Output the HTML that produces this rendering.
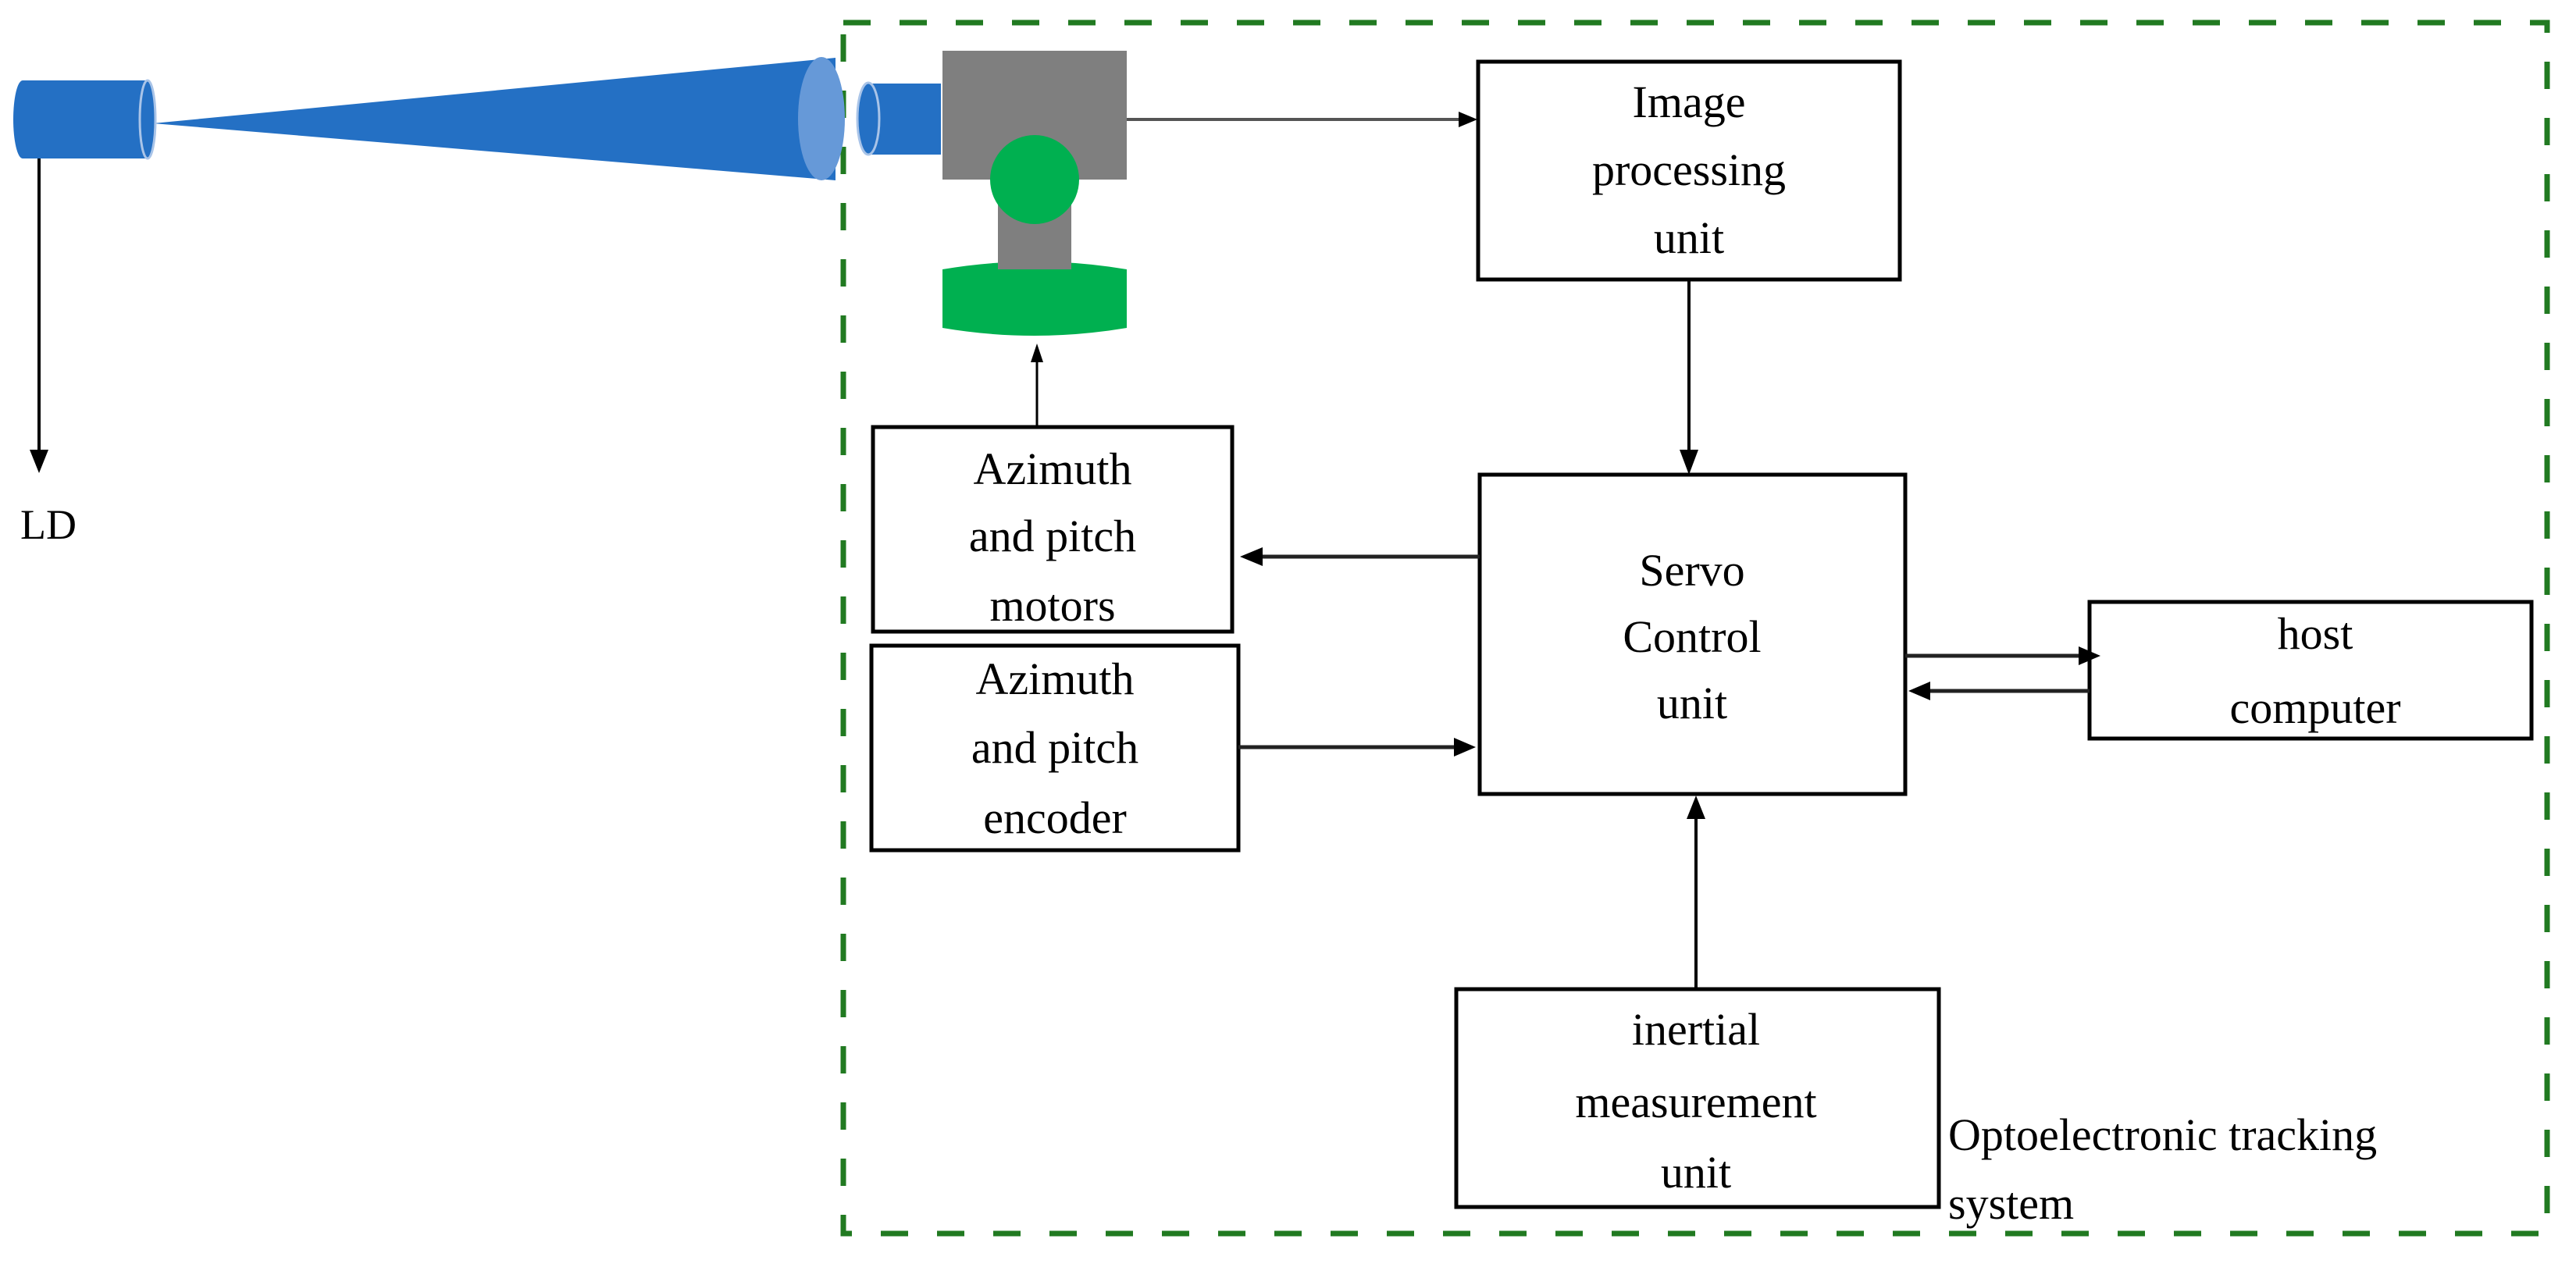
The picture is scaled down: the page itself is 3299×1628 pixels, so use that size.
<!DOCTYPE html>
<html><head><meta charset="utf-8"><style>
html,body{margin:0;padding:0;background:#fff}
svg{display:block}
text{font-family:"Liberation Serif",serif;font-size:58px;fill:#000;text-anchor:middle}
</style></head><body>
<svg width="3299" height="1628" viewBox="0 0 3299 1628" xmlns="http://www.w3.org/2000/svg">
<defs>
<marker id="ah" markerWidth="10" markerHeight="10" refX="9" refY="5" orient="auto" markerUnits="userSpaceOnUse" viewBox="0 0 10 10">
</marker>
</defs>
<!-- dashed system box -->
<rect x="1080" y="29" width="2182" height="1551" fill="none" stroke="#217a21" stroke-width="7" stroke-dasharray="35 37"/>

<!-- emitter -->
<polygon points="196,158 1070,74 1070,231" fill="#2470c4"/>
<ellipse cx="1052" cy="152" rx="30" ry="79" fill="#6699d8"/>
<rect x="29" y="103" width="160" height="100" fill="#2470c4"/>
<ellipse cx="29" cy="153" rx="12" ry="50" fill="#2470c4"/>
<ellipse cx="189" cy="153" rx="10" ry="50" fill="#2470c4" stroke="#a9c4e8" stroke-width="3"/>
<!-- LD arrow -->
<line x1="50" y1="203" x2="50" y2="580" stroke="#000" stroke-width="4"/>
<polygon points="38,576 62,576 50,606" fill="#000"/>
<text x="26" y="690" style="text-anchor:start;font-size:54px">LD</text>

<!-- camera -->
<rect x="1207" y="65" width="236" height="165" fill="#7f7f7f"/>
<rect x="1112" y="107" width="93" height="91" fill="#2470c4"/>
<ellipse cx="1112" cy="152" rx="14" ry="46" fill="#2470c4" stroke="#a9c4e8" stroke-width="3"/>
<rect x="1278" y="230" width="94" height="115" fill="#7f7f7f"/>
<circle cx="1325" cy="230" r="57" fill="#00b050"/>
<path d="M1207,345 Q1325,325 1443,345 L1443,420 Q1325,440 1207,420 Z" fill="#00b050"/>
<rect x="1278" y="318" width="94" height="27" fill="#7f7f7f"/>
<!-- arrow to base -->
<line x1="1328" y1="547" x2="1328" y2="460" stroke="#000" stroke-width="3"/>
<polygon points="1320,464 1336,464 1328,440" fill="#000"/>

<!-- camera to image -->
<line x1="1443" y1="153" x2="1870" y2="153" stroke="#555" stroke-width="4"/>
<polygon points="1868,143 1868,163 1892,153" fill="#000"/>

<!-- Image processing unit -->
<rect x="1893" y="79" width="540" height="279" fill="#fff" stroke="#000" stroke-width="5"/>
<text x="2163" y="150">Image</text>
<text x="2163" y="237">processing</text>
<text x="2163" y="324">unit</text>
<line x1="2163" y1="358" x2="2163" y2="580" stroke="#000" stroke-width="4"/>
<polygon points="2151,576 2175,576 2163,608" fill="#000"/>

<!-- Servo -->
<rect x="1895" y="608" width="545" height="409" fill="#fff" stroke="#000" stroke-width="5"/>
<text x="2167" y="750">Servo</text>
<text x="2167" y="835">Control</text>
<text x="2167" y="920">unit</text>

<!-- servo -> motors -->
<line x1="1895" y1="713" x2="1615" y2="713" stroke="#222" stroke-width="5"/>
<polygon points="1617,701 1617,725 1588,713" fill="#000"/>

<!-- motors -->
<rect x="1118" y="547" width="460" height="262" fill="#fff" stroke="#000" stroke-width="5"/>
<text x="1348" y="620">Azimuth</text>
<text x="1348" y="706">and pitch</text>
<text x="1348" y="795">motors</text>

<!-- encoder -->
<rect x="1116" y="827" width="470" height="262" fill="#fff" stroke="#000" stroke-width="5"/>
<text x="1351" y="889">Azimuth</text>
<text x="1351" y="977">and pitch</text>
<text x="1351" y="1067">encoder</text>
<line x1="1586" y1="957" x2="1865" y2="957" stroke="#222" stroke-width="5"/>
<polygon points="1862,945 1862,969 1890,957" fill="#000"/>

<!-- host -->
<rect x="2676" y="771" width="566" height="175" fill="#fff" stroke="#000" stroke-width="5"/>
<text x="2965" y="831">host</text>
<text x="2965" y="926">computer</text>
<line x1="2440" y1="840" x2="2665" y2="840" stroke="#222" stroke-width="5"/>
<polygon points="2662,828 2662,852 2690,840" fill="#000"/>
<line x1="2676" y1="885" x2="2470" y2="885" stroke="#222" stroke-width="5"/>
<polygon points="2472,873 2472,897 2444,885" fill="#000"/>

<!-- IMU -->
<line x1="2172" y1="1267" x2="2172" y2="1045" stroke="#000" stroke-width="4"/>
<polygon points="2160,1049 2184,1049 2172,1019" fill="#000"/>
<rect x="1865" y="1267" width="618" height="279" fill="#fff" stroke="#000" stroke-width="5"/>
<text x="2172" y="1338">inertial</text>
<text x="2172" y="1431">measurement</text>
<text x="2172" y="1521">unit</text>

<text x="2495" y="1473" style="text-anchor:start">Optoelectronic tracking</text>
<text x="2495" y="1561" style="text-anchor:start">system</text>
</svg>
</body></html>
